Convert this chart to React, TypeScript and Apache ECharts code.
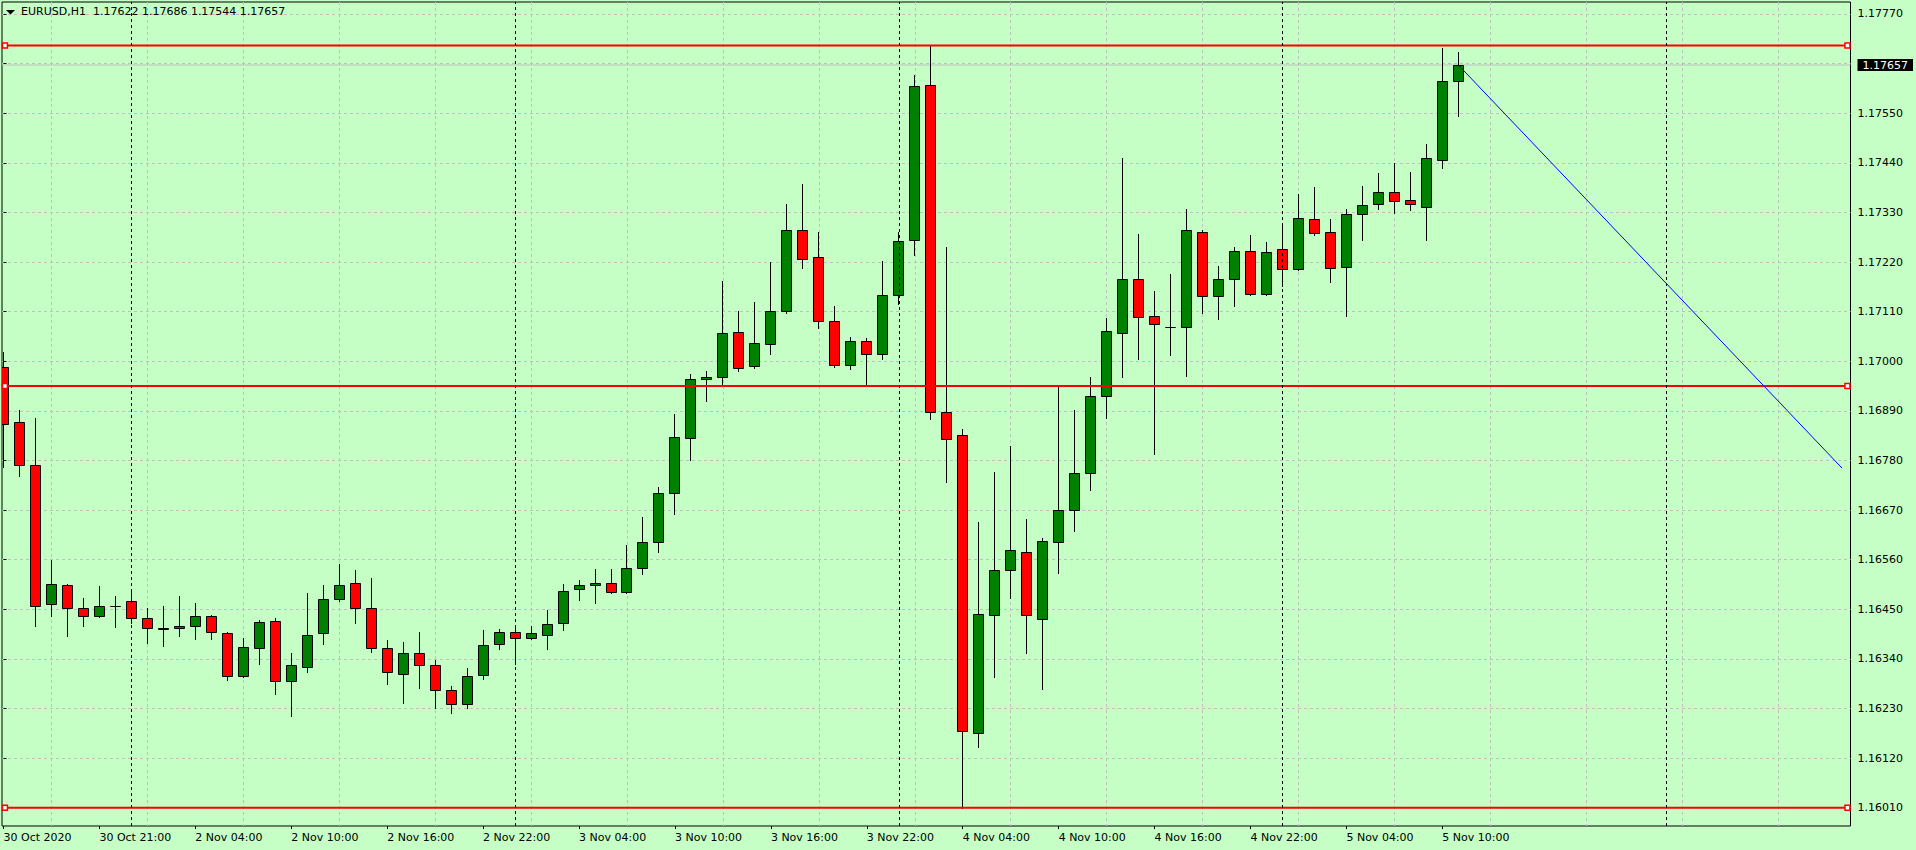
import React, { useEffect, useRef } from "react";
import * as echarts from "echarts";

// ---- data ----
const HEADER_SYMBOL = "EURUSD,H1";
const HEADER_OHLC = ["1.17622", "1.17686", "1.17544", "1.17657"];

const X_LABELS = [
  "30 Oct 2020", "30 Oct 21:00", "2 Nov 04:00", "2 Nov 10:00", "2 Nov 16:00", "2 Nov 22:00",
  "3 Nov 04:00", "3 Nov 10:00", "3 Nov 16:00", "3 Nov 22:00", "4 Nov 04:00", "4 Nov 10:00",
  "4 Nov 16:00", "4 Nov 22:00", "5 Nov 04:00", "5 Nov 10:00",
];
const X_LABEL_BARS = [0, 6, 12, 18, 24, 30, 36, 42, 48, 54, 60, 66, 72, 78, 84, 90];
const X_GRID_BARS = [3, 9, 15, 21, 27, 33, 39, 45, 51, 57, 63, 69, 75, 81, 87, 93, 99, 105, 111];
const DAY_SEPARATOR_BARS = [8, 32, 56, 80, 104];

const PRICE_TICKS = [
  1.1601, 1.1612, 1.1623, 1.1634, 1.1645, 1.1656, 1.1667, 1.1678, 1.1689,
  1.17, 1.1711, 1.1722, 1.1733, 1.1744, 1.1755, 1.1766, 1.1777,
];

const opens = [
  1.16988, 1.16865, 1.16771, 1.16461, 1.16503, 1.16452, 1.16434, 1.16457, 1.16468, 1.1643,
  1.16409, 1.16408, 1.16412, 1.16434, 1.16397, 1.16301, 1.16364, 1.16423, 1.1629, 1.16321,
  1.16397, 1.16472, 1.16508, 1.16452, 1.16364, 1.16306, 1.16352, 1.16326, 1.1627, 1.16239,
  1.16304, 1.16372, 1.16399, 1.16386, 1.16394, 1.16419, 1.16494, 1.16503, 1.16508, 1.16488,
  1.16541, 1.16599, 1.16707, 1.16829, 1.1696, 1.16966, 1.17064, 1.16989, 1.17038, 1.17111,
  1.1729, 1.17231, 1.17089, 1.16991, 1.17044, 1.17015, 1.17146, 1.17268, 1.17612, 1.16887,
  1.16836, 1.16176, 1.16437, 1.16536, 1.16576, 1.16428, 1.16599, 1.1667, 1.16752, 1.16922,
  1.17062, 1.17182, 1.171, 1.17077, 1.17075, 1.17286, 1.17144, 1.17182, 1.17244, 1.17148,
  1.17248, 1.17204, 1.17315, 1.17286, 1.17208, 1.17326, 1.17348, 1.17376, 1.17357, 1.17341,
  1.17446, 1.17622,
];
const highs = [
  1.1702, 1.16891, 1.16874, 1.16559, 1.16505, 1.16475, 1.16502, 1.16479, 1.16491, 1.16452,
  1.16458, 1.16479, 1.16465, 1.16437, 1.16399, 1.16386, 1.16426, 1.1643, 1.16353, 1.16485,
  1.16503, 1.1655, 1.16537, 1.16519, 1.16381, 1.16377, 1.16399, 1.16337, 1.16279, 1.16319,
  1.16404, 1.16406, 1.16411, 1.16414, 1.16448, 1.16506, 1.16515, 1.16539, 1.16539, 1.16592,
  1.16655, 1.16721, 1.16883, 1.16971, 1.16978, 1.17178, 1.17111, 1.17131, 1.1722, 1.17349,
  1.17393, 1.17287, 1.17122, 1.17053, 1.17051, 1.17222, 1.17287, 1.17634, 1.177, 1.17253,
  1.1685, 1.16644, 1.16754, 1.16812, 1.1665, 1.16608, 1.16947, 1.16892, 1.16965, 1.17095,
  1.17451, 1.17282, 1.17156, 1.17194, 1.17338, 1.1729, 1.17211, 1.17253, 1.1728, 1.17264,
  1.17304, 1.17371, 1.17386, 1.17315, 1.17337, 1.17389, 1.17417, 1.17439, 1.17419, 1.17481,
  1.17694, 1.17686,
];
const lows = [
  1.16766, 1.16746, 1.16413, 1.16436, 1.16391, 1.16413, 1.16432, 1.16411, 1.16419, 1.16376,
  1.16369, 1.16391, 1.16385, 1.16385, 1.16294, 1.16299, 1.16329, 1.16263, 1.16214, 1.16312,
  1.16374, 1.16468, 1.1642, 1.16356, 1.16285, 1.16243, 1.16276, 1.1623, 1.16221, 1.16232,
  1.16296, 1.16363, 1.16328, 1.16383, 1.16363, 1.16403, 1.1647, 1.16465, 1.16485, 1.16485,
  1.16528, 1.16576, 1.16661, 1.1678, 1.16911, 1.16949, 1.16979, 1.16985, 1.17016, 1.17107,
  1.17207, 1.17074, 1.16987, 1.16982, 1.16949, 1.17004, 1.17126, 1.17235, 1.16873, 1.16733,
  1.1601, 1.16145, 1.163, 1.16476, 1.16352, 1.16274, 1.16531, 1.16624, 1.16715, 1.16875,
  1.16964, 1.17005, 1.16795, 1.17014, 1.16968, 1.17108, 1.17094, 1.17123, 1.17146, 1.17146,
  1.17166, 1.17202, 1.17281, 1.17176, 1.17101, 1.17269, 1.17338, 1.17329, 1.17336, 1.17269,
  1.17429, 1.17544,
];
const closes = [
  1.1686, 1.16771, 1.16458, 1.16505, 1.16452, 1.16434, 1.16457, 1.16457, 1.1643, 1.16408,
  1.16407, 1.16413, 1.16434, 1.16399, 1.16301, 1.16366, 1.16421, 1.16292, 1.16326, 1.16394,
  1.16472, 1.16503, 1.16452, 1.16364, 1.16312, 1.16352, 1.16326, 1.1627, 1.16239, 1.16301,
  1.1637, 1.16399, 1.16386, 1.16397, 1.16417, 1.16491, 1.16503, 1.16508, 1.16488, 1.16541,
  1.16599, 1.16707, 1.16831, 1.1696, 1.16966, 1.17062, 1.16986, 1.1704, 1.17111, 1.1729,
  1.17227, 1.17089, 1.16991, 1.17044, 1.17015, 1.17146, 1.17266, 1.1761, 1.16887, 1.16827,
  1.16179, 1.16439, 1.16536, 1.16581, 1.16437, 1.16601, 1.1667, 1.16752, 1.16924, 1.17066,
  1.17182, 1.17097, 1.17082, 1.17077, 1.1729, 1.17144, 1.17182, 1.17244, 1.17148, 1.17242,
  1.17204, 1.17317, 1.17284, 1.17206, 1.17326, 1.17346, 1.17376, 1.17355, 1.17348, 1.1745,
  1.17622, 1.17657,
];

const LEVELS = [1.177, 1.16945, 1.1601];
const BID = 1.17657;
const TREND_BARS = [91, 115];
const TREND_PRICES = [1.17657, 1.16763];

// ---- styles ----
const BG = "#c5ffc5";
const GRID_COLOR = "#c0c0c0";
const UP = "#008000";
const DOWN = "#ff0000";
const FONT = "DejaVu Sans";

const X_MIN = -0.09375;
const X_MAX = 115.53125;
const Y_MIN = 1.159694;
const Y_MAX = 1.177966;
const LEVEL_X = [0.09, 115.34];

export default function App() {
  const ref = useRef<HTMLDivElement>(null);
  useEffect(() => {
    if (!ref.current) return;
    const chart = echarts.init(ref.current, null, { renderer: "svg" });
    const candleData = opens.map((o, i) => [i, o, closes[i], lows[i], highs[i]]);
    // price-scale labels: the bid label box hides the tick label it covers
    const labelValues = PRICE_TICKS.filter((t) => Math.abs(t - BID) > 0.0003).concat([BID]);
    const option: any = {
      animation: false,
      backgroundColor: BG,
      textStyle: { fontFamily: FONT },
      grid: {
        left: 2, right: 64, top: 2, bottom: 24,
        show: true, borderColor: "#000", borderWidth: 1, backgroundColor: "transparent",
      },
      xAxis: [
        {
          type: "value", min: X_MIN, max: X_MAX, position: "bottom",
          axisLine: { show: false },
          axisLabel: { show: false },
          axisTick: { show: false, customValues: X_GRID_BARS },
          splitLine: { show: true, lineStyle: { color: GRID_COLOR, type: [3, 3], width: 1 } },
        },
        {
          type: "value", min: X_MIN, max: X_MAX, position: "bottom",
          axisLine: { show: false },
          axisTick: { show: true, length: 3, customValues: X_LABEL_BARS, lineStyle: { color: "#000" } },
          axisLabel: {
            show: true, customValues: X_LABEL_BARS, align: "left", margin: 6,
            color: "#000", fontSize: 11, fontFamily: FONT,
            formatter: (v: number) => X_LABELS[X_LABEL_BARS.indexOf(Math.round(v))] ?? "",
          },
          splitLine: { show: false },
        },
      ],
      yAxis: {
        type: "value", position: "right", min: Y_MIN, max: Y_MAX,
        axisLine: { show: false },
        axisTick: { show: true, length: 3, customValues: PRICE_TICKS, lineStyle: { color: "#000" } },
        axisLabel: {
          customValues: labelValues, margin: 7, color: "#000", fontSize: 11, fontFamily: FONT,
          formatter: (v: number) =>
            Math.abs(v - BID) < 1e-7 ? `{cur|${v.toFixed(5)}}` : v.toFixed(5),
          rich: {
            cur: {
              color: "#fff", backgroundColor: "#000", padding: [1, 5, 0, 5],
              fontSize: 11, fontFamily: FONT, lineHeight: 12,
            },
          },
        },
        splitLine: { show: true, lineStyle: { color: GRID_COLOR, type: [3, 3], width: 1 } },
      },
      graphic: [
        { type: "polygon", z: 100, shape: { points: [[6, 10], [15, 10], [10.5, 14.5]] }, style: { fill: "#000" } },
        {
          type: "text", z: 100, left: 21, top: 6,
          style: { text: HEADER_SYMBOL + "  " + HEADER_OHLC.join(" "), fill: "#000", font: `11px "${FONT}"` },
        },
      ],
      series: [
        {
          type: "line", xAxisIndex: 0, data: [], z: 1, silent: true,
          markLine: {
            silent: true, symbol: "none", animation: false,
            label: { show: false },
            lineStyle: { color: "#000", type: [3, 3], width: 1 },
            data: DAY_SEPARATOR_BARS.map((b) => ({ xAxis: b })),
          },
        },
        {
          type: "line", xAxisIndex: 0, z: 1, silent: true, symbol: "none",
          data: [[X_MIN, BID], [X_MAX, BID]],
          lineStyle: { color: "#c0c0c0", width: 1 },
        },
        {
          type: "custom", xAxisIndex: 0, z: 3, clip: true,
          data: candleData,
          encode: { x: 0, y: [1, 2, 3, 4] },
          renderItem: (params: any, api: any) => {
            const i = api.value(0);
            const o = api.value(1), c = api.value(2), l = api.value(3), h = api.value(4);
            const po = api.coord([i, o]);
            const pc = api.coord([i, c]);
            const ph = api.coord([i, h]);
            const pl = api.coord([i, l]);
            const x = Math.floor(po[0]) + 0.5;
            const yTop = Math.round(Math.min(po[1], pc[1])) + 0.5;
            const yBot = Math.round(Math.max(po[1], pc[1])) + 0.5;
            const fill = c > o ? UP : c < o ? DOWN : "#000";
            return {
              type: "group",
              children: [
                {
                  type: "line",
                  shape: { x1: x, y1: Math.round(ph[1]), x2: x, y2: Math.round(pl[1]) + 1 },
                  style: { stroke: "#000", lineWidth: 1 },
                },
                {
                  type: "rect",
                  shape: { x: x - 5, y: yTop, width: 10, height: yBot - yTop },
                  style: { fill, stroke: "#000", lineWidth: 1 },
                },
              ],
            };
          },
        },
        ...LEVELS.map((p) => ({
          type: "line", xAxisIndex: 0, z: 4, silent: true, clip: false,
          data: LEVEL_X.map((x) => [x, p]),
          symbol: "rect", symbolSize: 5, showSymbol: true,
          lineStyle: { color: "#ff0000", width: 2 },
          itemStyle: { color: "#ffffff", borderColor: "#ff0000", borderWidth: 1.5 },
        })),
        {
          type: "line", xAxisIndex: 0, z: 5, silent: true, symbol: "none",
          data: TREND_BARS.map((b, i) => [b, TREND_PRICES[i]]),
          lineStyle: { color: "#0000ff", width: 1 },
        },
      ],
    };
    chart.setOption(option);
    return () => chart.dispose();
  }, []);
  return (
    <div
      ref={ref}
      style={{ position: "fixed", left: 0, top: 0, width: 1916, height: 850, background: BG }}
    />
  );
}
